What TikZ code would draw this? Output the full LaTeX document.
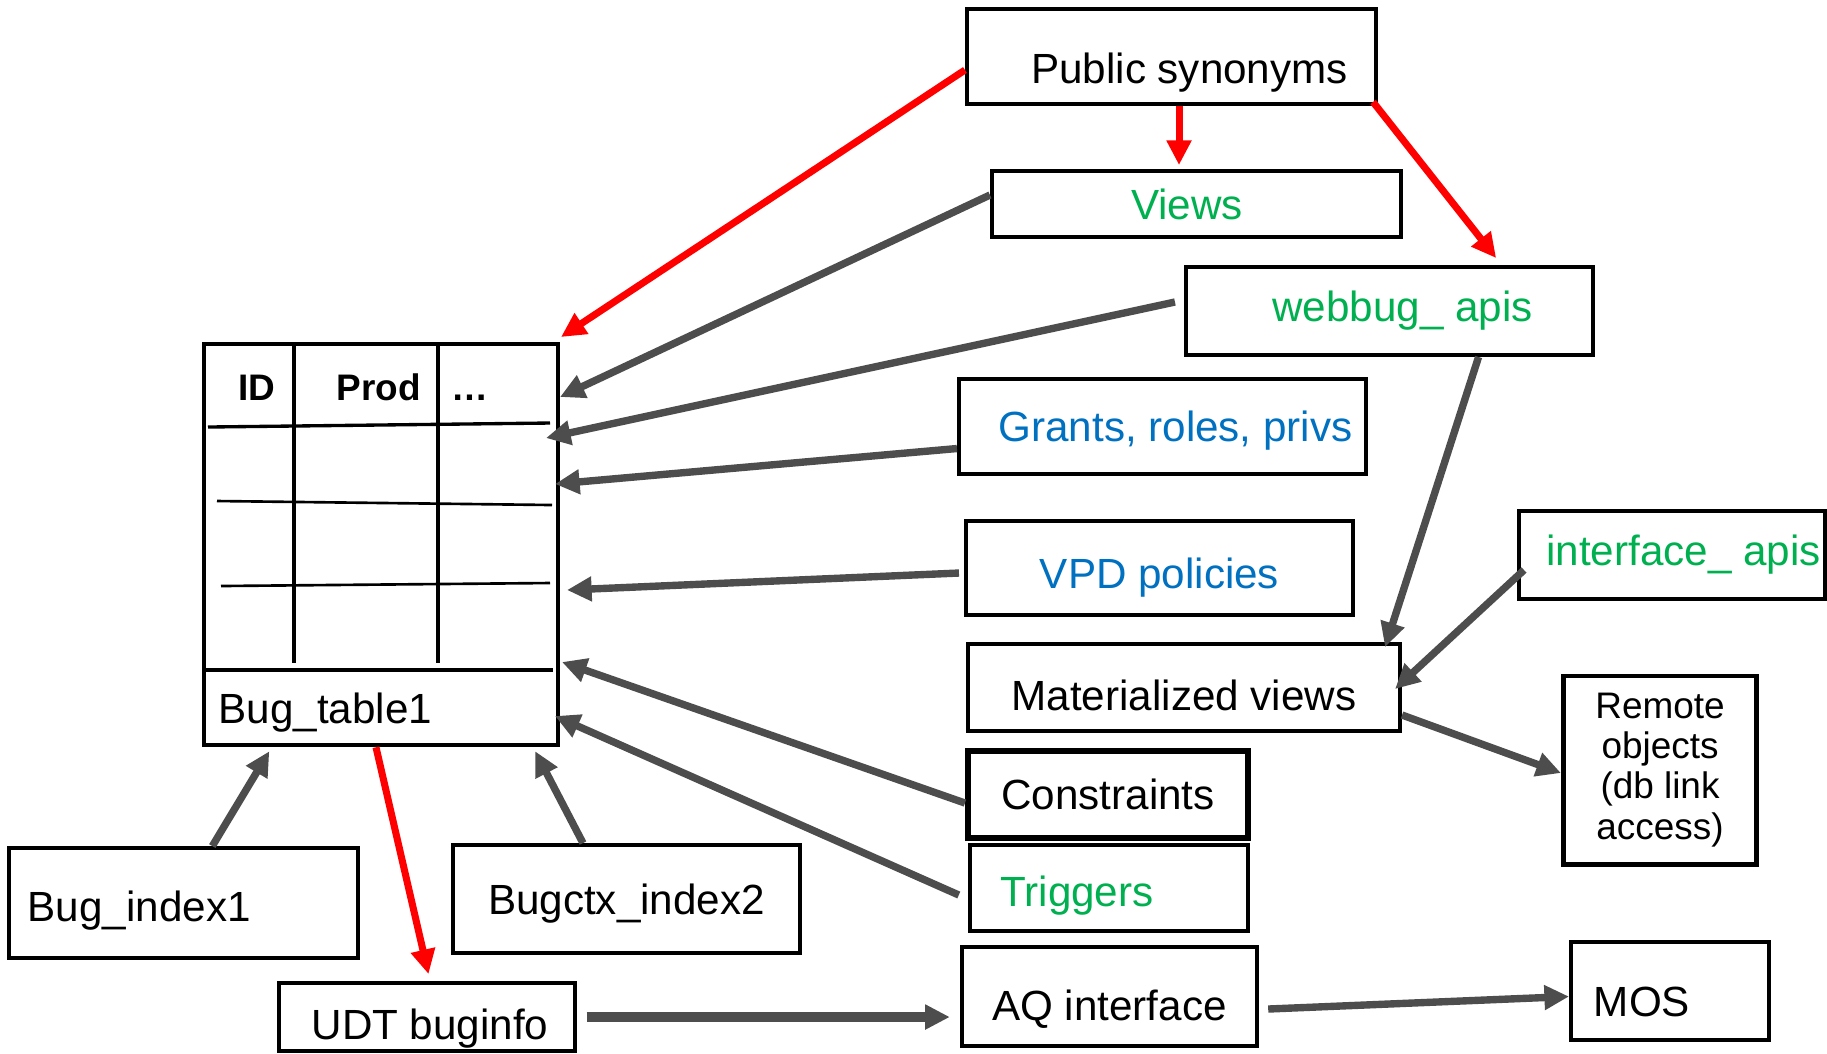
\documentclass[tikz,border=0pt]{standalone}
\usepackage{fontspec}
\setmainfont{Liberation Sans}
\usetikzlibrary{arrows.meta}
\definecolor{synred}{HTML}{FF0000}
\definecolor{depgray}{HTML}{4D4D4D}
\definecolor{objgreen}{HTML}{00B050}
\definecolor{objblue}{HTML}{0070C0}
\tikzset{
    obj/.style={draw, line width=1.1pt, inner sep=0pt, font=\fontsize{12}{14}\selectfont},
    cap/.style={text depth=0pt, text height=#1},
    cap/.default=8.6pt,
    uses/.style={color=depgray, line width=2.1pt, -{Triangle[length=7pt,width=6.7pt]}},
    maps/.style={color=synred, line width=2pt, -{Triangle[length=7pt,width=6.7pt]}},
    grid line/.style={line width=0.75pt},
    head/.style={font=\fontsize{10.5}{12}\selectfont\bfseries, anchor=base, inner sep=0pt},
}

\begin{document}
\begin{tikzpicture}[x=0.01cm, y=-0.01cm]
        \useasboundingbox (0,0) rectangle (1827,1053);

        \node[obj, line width=1.2pt, minimum width=3.54cm, minimum height=4.01cm] (tbl) at (381,544.5) {};
        \draw[line width=0.95pt] (208,427) -- (550,423);
        \draw[grid line] (217,501) -- (552,505);
        \draw[grid line] (221,586) -- (550,583);
        \draw[line width=0.95pt] (203,670) -- (553,670);
        \foreach \x in {294,438}
            \draw[line width=0.95pt] (\x,344) -- (\x,663);
        \node[head] (colid) at (256.5,400) {ID};
        \node[head] (colprod) at (378.5,400) {Prod};
        \node[head] (colmore) at (469.5,400) {\ldots};
        \node[anchor=base west, inner sep=0pt, font=\fontsize{12}{14}\selectfont] (tname) at (218,723) {Bug\_table1};

        \node[obj, cap=15.4pt, minimum width=4.09cm, minimum height=0.95cm] (pub) at (1171.5,56.5) {\hspace*{0.36cm}Public synonyms};
        \node[obj, cap, text=objgreen, minimum width=4.09cm, minimum height=0.66cm] (views) at (1196.5,204) {Views\hspace*{0.19cm}};
        \node[obj, cap=5.8pt, text=objgreen, minimum width=4.07cm, minimum height=0.88cm] (webbug) at (1389.5,311) {\hspace*{0.26cm}webbug\_ apis};
        \node[obj, cap, text=objblue, minimum width=4.07cm, minimum height=0.95cm] (grants) at (1162.5,426.5) {\hspace*{0.26cm}Grants, roles, privs};
        \node[obj, cap=11.4pt, text=objblue, minimum width=3.87cm, minimum height=0.94cm] (vpd) at (1159.5,568) {VPD policies};
        \node[obj, cap=5.8pt, text=objgreen, minimum width=3.06cm, minimum height=0.88cm] (iface) at (1672,555) {\hspace*{0.23cm}interface\_ apis};
        \node[obj, cap=13.1pt, minimum width=4.32cm, minimum height=0.87cm] (mview) at (1184,687.5) {Materialized views};
        \node[obj, line width=1.4pt, align=center, font=\fontsize{10.5}{11.4}\selectfont, minimum width=1.93cm, minimum height=1.88cm] (remote) at (1660,770) {Remote\\objects\\(db link\\access)};
        \node[obj, cap, line width=1.7pt, minimum width=2.8cm, minimum height=0.87cm] (cons) at (1108,794.5) {Constraints};
        \node[obj, cap=10.3pt, line width=1.2pt, text=objgreen, minimum width=2.78cm, minimum height=0.86cm] (trig) at (1109,888) {Triggers\hspace*{0.64cm}};
        \node[obj, cap=13.7pt, line width=1.2pt, minimum width=2.95cm, minimum height=0.99cm] (aq) at (1109.5,996.5) {AQ interface};
        \node[obj, cap=14.3pt, minimum width=1.98cm, minimum height=0.98cm] (mos) at (1670,991) {MOS\hspace*{0.56cm}};
        \node[obj, cap=10.3pt, minimum width=3.49cm, minimum height=1.1cm] (idx1) at (183.3,903) {Bug\_index1\hspace*{0.88cm}};
        \node[obj, cap, minimum width=3.47cm, minimum height=1.08cm] (idx2) at (626.5,899) {Bugctx\_index2};
        \node[obj, cap=12.9pt, minimum width=2.95cm, minimum height=0.68cm] (udt) at (427,1017) {\hspace*{0.06cm}UDT buginfo};

        \coordinate (t1) at (561,337);
        \coordinate (t2) at (560,397);
        \coordinate (t3) at (546,438);
        \coordinate (t4) at (555,484);
        \coordinate (t5) at (567,590);
        \coordinate (t6) at (562,662);
        \coordinate (t7) at (555,716);

    \path[maps]
        ([yshift=-0.135cm]pub.west) edge (t1)
        ([xshift=0.075cm]pub.south) edge ([xshift=0.075cm,yshift=0.04cm]pub.south |- views.north)
        ([xshift=-0.05cm,yshift=0.04cm]pub.south east) edge ([xshift=3.12cm,yshift=0.07cm]webbug.north west)
        ([xshift=-0.05cm]tbl.south) edge ([xshift=0.015cm,yshift=0.07cm]udt.north);
    \path[uses]
        ([yshift=0.09cm]views.west) edge (t2)
        ([xshift=-0.09cm,yshift=0.09cm]webbug.west) edge (t3)
        ([yshift=-0.22cm]grants.west) edge (t4)
        ([xshift=-0.05cm,yshift=-0.05cm]vpd.west) edge (t5)
        ([yshift=-0.085cm]cons.west) edge (t6)
        ([xshift=-0.09cm,yshift=-0.07cm]trig.west) edge (t7)
        ([xshift=0.29cm]idx1.north) edge ([xshift=0.675cm,yshift=-0.04cm]tbl.south west)
        ([xshift=-0.435cm]idx2.north) edge ([xshift=-0.25cm,yshift=-0.04cm]tbl.south east)
        ([xshift=0.89cm]webbug.south) edge ([xshift=-0.17cm,yshift=-0.05cm]mview.north east)
        ([xshift=0.07cm,yshift=-0.15cm]iface.west) edge ([xshift=-0.07cm,yshift=-0.015cm]mview.east)
        ([yshift=-0.275cm]mview.east) edge ([yshift=-0.03cm]remote.west)
        ([xshift=0.09cm,yshift=-0.125cm]aq.east) edge ([yshift=-0.055cm]mos.west);
    \draw[uses, line width=2.6pt] ([xshift=0.1cm]udt.east) -- ([xshift=-0.1cm]aq.west |- udt.east);
\end{tikzpicture}
\end{document}
